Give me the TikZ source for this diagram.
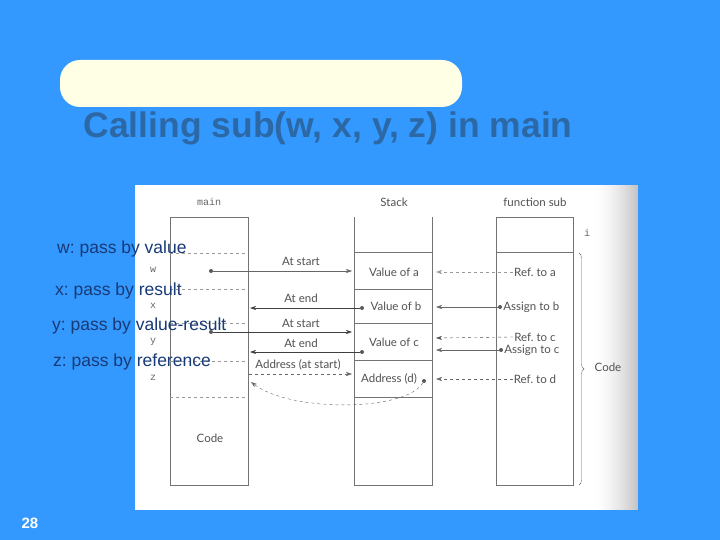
\documentclass[tikz,border=0pt]{standalone}
\usepackage{fontspec}
\setmainfont{Liberation Sans}
\setmonofont{Liberation Mono}
\newfontfamily\scanfont{Lato}
\usepackage{xcolor}
\usetikzlibrary{positioning}
\usetikzlibrary{arrows.meta}
\usetikzlibrary{decorations.pathreplacing}
\frenchspacing

\definecolor{slideblue}{RGB}{51,153,255}
\definecolor{cream}{RGB}{255,255,230}
\definecolor{titleblue}{RGB}{44,104,166}
\definecolor{passblue}{RGB}{24,58,118}

\begin{document}
\begin{tikzpicture}[x=1pt,y=-1pt]
	\tikzstyle{scan}=[font=\scanfont\fontsize{11.5}{13}\selectfont, text=black!68, inner sep=1pt]
	\tikzstyle{var}=[font=\ttfamily\fontsize{10}{12}\selectfont, text=black!60, inner sep=1pt]
	\tikzstyle{col}=[draw=black!55, thin]
	\tikzstyle{sep}=[draw=black!40, dashed, thin]
	\tikzstyle{dot}=[circle, fill=black!65, inner sep=0pt, minimum size=4pt]
	\tikzstyle{link}=[draw=black!60, -{Stealth[length=6pt,width=4pt]}]
	\tikzstyle{pass}=[font=\fontsize{17.5}{20}\selectfont, text=passblue, anchor=west, inner sep=0pt]

	% slide
	\fill[slideblue] (0,0) rectangle (720,540);
	\useasboundingbox (0,0) rectangle (720,540);
	\fill[cream, rounded corners=20pt] (60,60) rectangle (462,107);
	\node[font=\bfseries\fontsize{35.5}{40}\selectfont, text=titleblue] (title) at (328,128) {Calling sub(w, x, y, z) in main};
	\node[font=\bfseries\fontsize{15}{18}\selectfont, text=white] (page) at (30,523) {28};

	% scanned figure
	\fill[white] (135,185) rectangle (638,510);
	\foreach \i [evaluate=\i as \p using 24*(\i/44)^1.6] in {0,...,43}
		\fill[black!\p] (594+\i,185) rectangle (595.2+\i,510);

	\node[var] (main) at (209,202) {main};
	\node[scan] (stack) at (394,202) {Stack};
	\node[scan] (sub) at (535,202) {function sub};

	% columns
	\draw[col] (170,217) rectangle (248,485);
	\draw[col] (354,217) -- (354,485) -- (432,485) -- (432,217);
	\draw[col] (496,217) rectangle (573,485);
	\draw[col] (496,252) -- (573,252);
	\foreach \y in {252,289,323,360,397}
		\draw[col] (354,\y) -- (432,\y);
	\foreach \y in {253,289,323,361,397}
		\draw[sep] (170,\y) -- (248,\y);

	\node[var] (w) at (153,270) {w};
	\node[var] (x) at (153,306) {x};
	\node[var] (y) at (153,342) {y};
	\node[var] (z) at (153,378) {z};
	\node[scan] (code) at (210,438) {Code};
	\node[var] (i) at (587,233) {i};

	\node[scan] (va) at (394,272) {Value of a};
	\node[scan] (vb) at (396,306) {Value of b};
	\node[scan] (vc) at (394,342) {Value of c};
	\node[scan] (ad) at (389,379) {Address (d)};

	% main <-> stack
	\node[dot] (dw) at (211,271) {};
	\coordinate (sw) at (352,271);
	\path[link] (dw) -- (sw);
	\node[scan] (s1) at (301,261) {At start};

	\node[dot] (dx) at (362,308) {};
	\coordinate (mx) at (250,308);
	\path[link, semithick, draw=black!75] (dx) -- (mx);
	\node[scan] (e1) at (301,298) {At end};

	\node[dot] (dy) at (211,332) {};
	\coordinate (sy) at (352,332);
	\path[link, semithick, draw=black!75] (dy) -- (sy);
	\node[scan] (s2) at (301,323) {At start};

	\node[dot] (dy2) at (362,352) {};
	\coordinate (my) at (250,352);
	\path[link, semithick, draw=black!75] (dy2) -- (my);
	\node[scan] (e2) at (301,343) {At end};

	\coordinate (mz) at (249,374);
	\coordinate (sz) at (352,374);
	\path[link, dashed] (mz) -- (sz);
	\node[scan] (s3) at (298,365) {Address (at start)};

	\node[dot] (dd) at (424,381) {};
	\coordinate (mz2) at (251,382);
	\path[link, dashed] (dd) .. controls (405,412) and (290,412) .. (mz2);

	% sub -> stack
	\node[scan] (ra) at (535,272) {Ref. to a};
	\coordinate (ta) at (436,272);
	\path[link, dashed, draw=black!40] (ra.west) -- (ta);

	\node[dot] (db) at (500,307) {};
	\node[scan, right=0pt of db] (ab) {Assign to b};
	\coordinate (tb) at (436,307);
	\path[link] (db) -- (tb);

	\node[scan] (rc) at (535,337) {Ref. to c};
	\coordinate (tc) at (436,338);
	\path[link, dashed, draw=black!70] (rc.west) -- (tc);

	\node[dot] (dc) at (501,350) {};
	\node[scan, right=0pt of dc] (ac) {Assign to c};
	\coordinate (tcc) at (436,350);
	\path[link] (dc) -- (tcc);

	\node[scan] (rd) at (535,379) {Ref. to d};
	\coordinate (td) at (436,379);
	\path[link, dashed] (rd.west) -- (td);

	% code brace
	\draw[draw=black!60, decorate, decoration={brace, amplitude=5pt}] (579,253) -- (579,485);
	\node[scan] (bcode) at (608,367) {Code};

	% slide labels
	\node[pass] (pw) at (57,249) {w: pass by value};
	\node[pass] (px) at (55,291) {x: pass by result};
	\node[pass] (py) at (52,326) {y: pass by value-result};
	\node[pass] (pz) at (53,362) {z: pass by reference};
\end{tikzpicture}
\end{document}
